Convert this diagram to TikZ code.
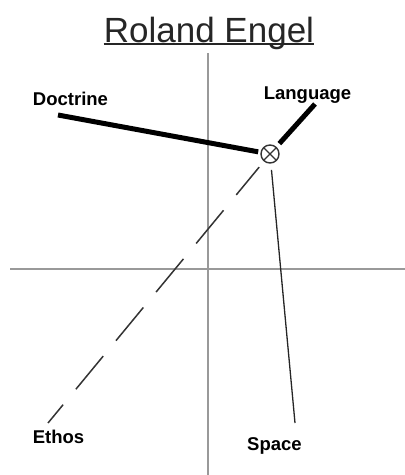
\documentclass[tikz,border=0pt]{standalone}
\usepackage{fontspec}
\setmainfont{Liberation Sans}
\usepackage{tikz}
\usetikzlibrary{positioning, calc}

\begin{document}
\begin{tikzpicture}[
		x=1pt, y=-1pt,
		axis/.style={draw=black!40, line width=1.5pt},
		heavy/.style={draw=black, line width=5pt},
		dashedline/.style={draw=black!80, line width=1.5pt, dash pattern=on 43pt off 20pt, dash phase=7pt},
		thinline/.style={draw=black!85, line width=1.3pt},
		hubnode/.style={circle, draw=black!80, line width=1.4pt, minimum size=18pt, inner sep=0pt, outer sep=0pt},
		term/.style={inner sep=0pt, anchor=base, font=\fontsize{18.5}{20}\selectfont\bfseries}
		]
		\useasboundingbox (0,0) rectangle (405,475);

		% axes
		\coordinate (ytop) at (208,53);
		\coordinate (ybot) at (208,475);
		\coordinate (xleft) at (10,269);
		\coordinate (xright) at (405,269);
		\draw[axis] (ytop) -- (ybot);
		\draw[axis] (xleft) -- (xright);

		% title
		\node[inner sep=0pt, anchor=base, text=black!85, font=\fontsize{35}{40}\selectfont] (title) at (209,42) {Roland Engel};
		\draw[black!85, line width=1.8pt] ($(title.base west)+(0,2)$) -- ($(title.base east)+(0,2)$);

		% hub
		\node[hubnode] (hub) at (270,154) {};
		\draw[black!80, line width=1.2pt] (hub.north west) -- (hub.south east);
		\draw[black!80, line width=1.2pt] (hub.north east) -- (hub.south west);

		% labels
		\node[term] (doctrine) at (70.5,105) {Doctrine};
		\node[term] (language) at (307.5,99) {Language};
		\node[term] (ethos) at (58.5,443) {Ethos};
		\node[term] (space) at (274.5,450) {Space};

		\coordinate (doctrineend) at (58,115);
		\coordinate (languageend) at (315,104);
		\coordinate (ethosend) at (48,423);
		\coordinate (spaceend) at (295,423);

		\draw[heavy, shorten <=3pt] (hub) -- (doctrineend);
		\draw[heavy, shorten <=5pt] (hub) -- (languageend);
		\draw[dashedline, shorten <=8pt] (hub) -- (ethosend);
		\draw[thinline, shorten <=7pt] (hub) -- (spaceend);
	\end{tikzpicture}
\end{document}
